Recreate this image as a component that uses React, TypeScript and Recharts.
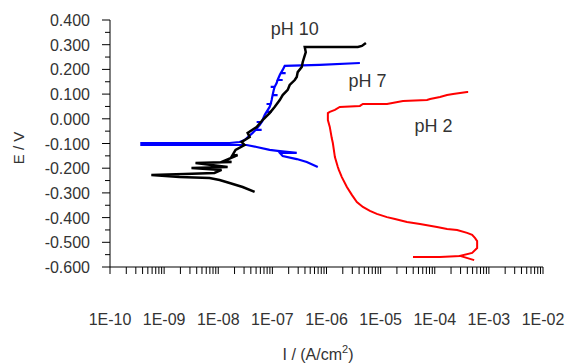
import React from 'react';
import { LineChart, Line, XAxis, YAxis, ReferenceDot } from 'recharts';

// decades on the current axis and their printed labels
const decades = [1e-10, 1e-9, 1e-8, 1e-7, 1e-6, 1e-5, 1e-4, 1e-3, 1e-2];
const decadeLabels = ['1E-10', '1E-09', '1E-08', '1E-07', '1E-06', '1E-05', '1E-04', '1E-03', '1E-02'];
const minorSteps = [2, 3, 4, 5, 6, 7, 8, 9];

const potentialTicks = [
  -0.6, -0.55, -0.5, -0.45, -0.4, -0.35, -0.3, -0.25, -0.2, -0.15, -0.1, -0.05,
  0, 0.05, 0.1, 0.15, 0.2, 0.25, 0.3, 0.35, 0.4,
];
const potentialLabels = [-0.6, -0.5, -0.4, -0.3, -0.2, -0.1, 0, 0.1, 0.2, 0.3, 0.4];

// pH 10 (black)
const ph10Current = [
  4.7e-8, 2.82e-8, 1.62e-8, 1.06e-8, 6.9e-9, 1.92e-9, 5.8e-10, 2.38e-9, 8.5e-9, 1.15e-8,
  3.2e-9, 1.49e-8, 3.8e-9, 1.76e-8, 1.3e-8, 2.28e-8, 1.8e-8, 2.09e-8, 3.07e-8, 2.7e-8,
  3.8e-8, 3.49e-8, 5.12e-8, 6.6e-8, 8.9e-8, 1.1e-7, 1.37e-7, 1.55e-7, 1.92e-7, 2.09e-7,
  2.59e-7, 2.82e-7, 2.94e-7, 3.49e-7, 3.64e-7, 4.14e-7, 3.96e-7, 3.8e-6, 4.51e-6, 5.35e-6,
];
const ph10Potential = [
  -0.296, -0.276, -0.26, -0.248, -0.24, -0.236, -0.228, -0.223, -0.219, -0.207,
  -0.199, -0.195, -0.179, -0.175, -0.17, -0.147, -0.15, -0.126, -0.106, -0.094,
  -0.074, -0.057, -0.033, -0.005, 0.023, 0.048, 0.076, 0.096, 0.117, 0.137,
  0.157, 0.169, 0.189, 0.21, 0.23, 0.27, 0.291, 0.291, 0.295, 0.307,
];

// pH 7 (blue)
const ph7Current = [
  6.9e-7, 4.32e-7, 2.82e-7, 1.55e-7, 1.37e-7, 2.82e-7, 1.25e-7, 8.9e-8, 5.12e-8, 3.34e-8,
  3.8e-10, 3.8e-10, 1.62e-8, 2.48e-8, 3.07e-8, 4.32e-8, 4.9e-8, 6.34e-8, 4.9e-8, 5.82e-8,
  6.34e-8, 5.12e-8, 6.34e-8, 7.2e-8, 7.8e-8, 9.7e-8, 7.8e-8, 8.9e-8, 9.3e-8, 7.8e-8,
  9.3e-8, 9.7e-8, 1.01e-7, 1.25e-7, 1.01e-7, 1.06e-7, 1.1e-7, 9.3e-8, 1.1e-7, 1.2e-7,
  1.25e-7, 1.55e-7, 1.25e-7, 1.37e-7, 1.43e-7, 1.76e-7, 1.43e-7, 1.55e-7, 1.69e-7, 7.5e-7,
  4.14e-6,
];
const ph7Potential = [
  -0.195, -0.175, -0.163, -0.151, -0.138, -0.138, -0.13, -0.126, -0.114, -0.106,
  -0.106, -0.098, -0.098, -0.094, -0.086, -0.057, -0.045, -0.045, -0.045, -0.025,
  -0.013, -0.013, -0.013, 0.015, 0.028, 0.028, 0.028, 0.048, 0.06, 0.06,
  0.06, 0.076, 0.096, 0.096, 0.096, 0.117, 0.129, 0.129, 0.129, 0.145,
  0.157, 0.157, 0.157, 0.177, 0.185, 0.185, 0.185, 0.198, 0.214, 0.218,
  0.226,
];

// pH 2 (red)
const ph2Current = [
  3.96e-5, 1.25e-4, 2.94e-4, 5.35e-4, 2.94e-4, 4.91e-4, 6.07e-4, 6.07e-4, 5.57e-4, 4.91e-4,
  3.96e-4, 2.59e-4, 1.69e-4, 1.1e-4, 5.34e-5, 3.07e-5, 1.84e-5, 1.31e-5, 8.5e-6, 6.34e-6,
  4.7e-6, 3.64e-6, 2.94e-6, 2.38e-6, 1.92e-6, 1.69e-6, 1.62e-6, 1.43e-6, 1.31e-6, 1.25e-6,
  1.15e-6, 1.06e-6, 1.06e-6, 1.15e-6, 1.43e-6, 1.76e-6, 4.14e-6, 4.7e-6, 1.31e-5, 2.59e-5,
  7.2e-5, 8.2e-5, 1.25e-4, 1.69e-4, 2.18e-4, 3.96e-4, 4.14e-4,
];
const ph2Potential = [
  -0.56, -0.56, -0.555, -0.572, -0.555, -0.543, -0.523, -0.495, -0.483, -0.47,
  -0.462, -0.45, -0.446, -0.438, -0.426, -0.418, -0.406, -0.398, -0.385, -0.373,
  -0.357, -0.337, -0.308, -0.276, -0.236, -0.207, -0.195, -0.155, -0.098, -0.078,
  -0.033, -0.005, 0.023, 0.028, 0.036, 0.048, 0.052, 0.06, 0.06, 0.072,
  0.076, 0.08, 0.088, 0.096, 0.1, 0.108, 0.108,
];

// curve labels, placed in data coordinates
const annotations = [
  { text: 'pH 10', i: 2.59e-7, e: 0.364 },
  { text: 'pH 7', i: 5.7e-6, e: 0.153 },
  { text: 'pH 2', i: 9.5e-5, e: -0.029 },
];

const toPoints = (cur: number[], pot: number[]) => cur.map((v, k) => ({ i: v, e: pot[k] }));

const ph10 = toPoints(ph10Current, ph10Potential);
const ph7 = toPoints(ph7Current, ph7Potential);
const ph2 = toPoints(ph2Current, ph2Potential);

const currentTicks = decades.flatMap((d, k) =>
  k === decades.length - 1 ? [d] : [d, ...minorSteps.map((m) => m * d)]
);

const FONT = '"Liberation Sans", Arial, sans-serif';
const TEXT = '#333';

const CurrentTick = (props: any) => {
  const { x, y, payload } = props;
  const idx = decades.findIndex((d) => Math.abs(payload.value - d) / d < 1e-6);
  return (
    <g>
      <line x1={x} x2={x} y1={y} y2={y + 7} stroke="#000" />
      {idx >= 0 && (
        <text x={x} y={y + 58} textAnchor="middle" fontSize={16} fontFamily={FONT} fill={TEXT}>
          {decadeLabels[idx]}
        </text>
      )}
    </g>
  );
};

const PotentialTick = (props: any) => {
  const { x, y, payload } = props;
  const major = potentialLabels.some((p) => Math.abs(p - payload.value) < 1e-6);
  return (
    <g>
      <line x1={x - (major ? 8 : 5)} x2={x} y1={y} y2={y} stroke="#000" />
      {major && (
        <text x={x - 20} y={y + 6} textAnchor="end" fontSize={16} fontFamily={FONT} fill={TEXT}>
          {payload.value.toFixed(3)}
        </text>
      )}
    </g>
  );
};

const App: React.FC = () => {
  return (
    <div style={{ position: 'absolute', left: 0, top: 0, background: '#fff' }}>
      <LineChart width={568} height={364} margin={{ top: 20, right: 25, left: 0, bottom: 0 }}>
        <XAxis
          dataKey="i"
          type="number"
          scale="log"
          domain={[1e-10, 1e-2]}
          allowDataOverflow
          ticks={currentTicks}
          interval={0}
          tick={<CurrentTick />}
          tickLine={false}
          tickSize={0}
          tickMargin={0}
          height={97}
          axisLine={{ stroke: '#000' }}
          label={{
            content: () => (
              <text x={318} y={360} textAnchor="middle" fontSize={16} fontFamily={FONT} fill={TEXT}>
                I / (A/cm
                <tspan dy={-7} fontSize={11}>2</tspan>
                <tspan dy={7}>)</tspan>
              </text>
            ),
          }}
        />
        <YAxis
          dataKey="e"
          type="number"
          domain={[-0.6, 0.4]}
          allowDataOverflow
          ticks={potentialTicks}
          interval={0}
          tick={<PotentialTick />}
          tickLine={false}
          tickSize={0}
          tickMargin={0}
          width={110}
          axisLine={{ stroke: '#000' }}
          label={{
            content: () => (
              <text
                x={18}
                y={148}
                transform="rotate(-90, 18, 148)"
                textAnchor="middle"
                dominantBaseline="central"
                fontSize={15}
                fontFamily={FONT}
                fill={TEXT}
              >
                E / V
              </text>
            ),
          }}
        />
        <Line data={ph2} dataKey="e" stroke="#ff0000" strokeWidth={2} dot={false} isAnimationActive={false} />
        <Line data={ph7} dataKey="e" stroke="#0000ff" strokeWidth={2.2} dot={false} isAnimationActive={false} />
        <Line data={ph10} dataKey="e" stroke="#000000" strokeWidth={2.5} dot={false} isAnimationActive={false} />
        {annotations.map((a) => (
          <ReferenceDot
            key={a.text}
            x={a.i}
            y={a.e}
            r={0}
            fill="none"
            stroke="none"
            label={{ value: a.text, position: 'center', fontSize: 18, fontFamily: FONT, fill: TEXT }}
          />
        ))}
      </LineChart>
    </div>
  );
};

export default App;
